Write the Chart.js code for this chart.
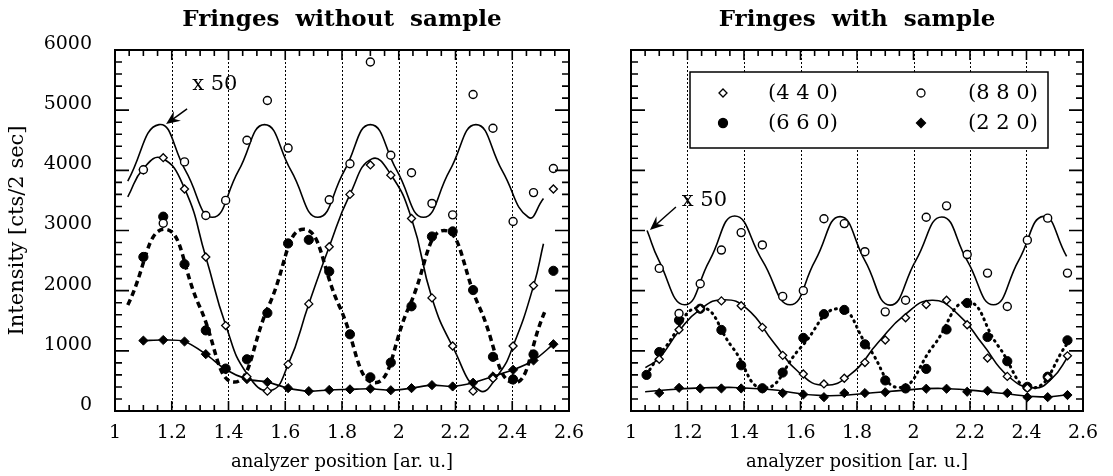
<!DOCTYPE html>
<html lang="en">
<head>
<meta charset="UTF-8">
<title>Fringes without / with sample</title>
<script src="https://cdn.jsdelivr.net/npm/chart.js@4"></script>
<style>
  body { margin: 0; background: #fff; }
  #wrap { position: relative; width: 1113px; height: 476px; }
  canvas { position: absolute; top: 0; }
</style>
</head>
<body>
<div id="wrap">
  <canvas id="left" width="600" height="476" style="left:0;width:600px;height:476px"></canvas>
  <canvas id="right" width="513" height="476" style="left:600px;width:513px;height:476px"></canvas>
</div>
<script>
const FONT = "'DejaVu Serif', serif";

// tick labels
const xTickVals = [1, 1.2, 1.4, 1.6, 1.8, 2, 2.2, 2.4, 2.6];
const yTickVals = [0, 1000, 2000, 3000, 4000, 5000, 6000];
const gridLines = [1.2, 1.4, 1.6, 1.8, 2, 2.2, 2.4];

// analyzer positions of the measured points
const positions = [1.10, 1.17, 1.245, 1.32, 1.39, 1.465, 1.537, 1.61, 1.683, 1.755, 1.828,
                   1.90, 1.972, 2.045, 2.117, 2.19, 2.262, 2.332, 2.403, 2.475, 2.545];

// ---- fringes without sample ----
const noS440 = [4010, 4210, 3690, 2560, 1420, 570, 330, 775, 1780, 2730, 3600, 4090, 3920, 3200, 1880, 1080, 330, 540, 1080, 2085, 3690];
const noS660 = [2560, 3230, 2440, 1340, 705, 860, 1630, 2785, 2845, 2320, 1275, 560, 805, 1740, 2900, 2985, 2010, 900, 525, 940, 2330];
const noS880 = [4010, 3120, 4140, 3250, 3500, 4500, 5160, 4370, null, 3510, 4110, 5800, 4250, 3960, 3450, 3260, 5260, 4700, 3150, 3630, 4030];
const noS220 = [1170, 1180, 1155, 945, 690, 530, 480, 380, 330, 350, 360, 370, 345, 380, 430, 408, 470, 575, 685, 840, 1110];

// fitted curves
const fitNoS880X = [1.045, 1.155, 1.249, 1.343, 1.435, 1.527, 1.621, 1.715, 1.808, 1.90, 1.994, 2.087, 2.179, 2.272, 2.365, 2.457, 2.51];
const fitNoS880Y = [3820, 4760, 3990, 3220, 3990, 4760, 3990, 3220, 3990, 4760, 3990, 3220, 3990, 4760, 3990, 3220, 3530];
const fitNoS440X = [1.045, 1.10, 1.165, 1.245, 1.32, 1.39, 1.465, 1.548, 1.61, 1.683, 1.755, 1.828, 1.905, 1.972, 2.045, 2.117, 2.19, 2.285, 2.35, 2.403, 2.475, 2.51];
const fitNoS440Y = [3560, 4030, 4200, 3700, 2560, 1430, 620, 340, 770, 1780, 2730, 3600, 4190, 3930, 3200, 1880, 1070, 340, 600, 1080, 2080, 2780];
const fitNoS660X = [1.045, 1.175, 1.297, 1.42, 1.542, 1.665, 1.79, 1.915, 2.037, 2.16, 2.283, 2.405, 2.514];
const fitNoS660Y = [1760, 3020, 1750, 480, 1750, 3020, 1750, 470, 1740, 3000, 1740, 470, 1640];

// ---- fringes with sample ----
const positions660w = [1.055].concat(positions);
const wS660 = [600, 980, 1510, 1700, 1347, 760, 378, 639, 1215, 1610, 1680, 1108, 508, 375, 700, 1355, 1795, 1230, 828, 402, 570, 1175];
const wS440 = [860, 1350, 1700, 1830, 1750, 1390, 925, 615, 450, 545, 805, 1180, 1550, 1770, 1840, 1433, 880, 575, 380, 560, 917];
const wS880 = [2370, 1620, 2115, 2675, 2965, 2760, 1905, 2000, 3195, 3115, 2648, 1648, 1840, 3220, 3410, 2600, 2292, 1736, 2840, 3205, 2292];
const wS220 = [300, 385, 375, 375, 375, 375, 298, 275, 230, 298, 298, 312, 383, 370, 370, 320, 336, 298, 230, 230, 265];

const fitWS880X = [1.057, 1.099, 1.19, 1.278, 1.367, 1.465, 1.563, 1.652, 1.740, 1.828, 1.917, 2.008, 2.100, 2.19, 2.283, 2.372, 2.460, 2.542];
const fitWS880Y = [3000, 2500, 1765, 2500, 3240, 2500, 1765, 2500, 3230, 2500, 1760, 2500, 3225, 2500, 1765, 2500, 3235, 2570];
const fitWS440X = [1.051, 1.10, 1.17, 1.245, 1.327, 1.41, 1.505, 1.595, 1.683, 1.78, 1.874, 1.97, 2.065, 2.155, 2.245, 2.335, 2.425, 2.49, 2.552];
const fitWS440Y = [720, 880, 1330, 1690, 1850, 1700, 1140, 640, 430, 620, 1135, 1600, 1840, 1620, 1110, 580, 385, 540, 940];
const fitWS660X = [1.054, 1.12, 1.245, 1.36, 1.47, 1.60, 1.735, 1.84, 1.95, 2.07, 2.19, 2.30, 2.42, 2.552];
const fitWS660Y = [600, 1050, 1720, 1050, 380, 1050, 1700, 1060, 390, 1080, 1810, 1080, 380, 1170];
const fitWS220X = [1.05, 1.25, 1.47, 1.68, 1.90, 2.10, 2.30, 2.45, 2.55];
const fitWS220Y = [320, 385, 365, 255, 320, 375, 300, 235, 270];

function pts(xs, ys) {
  return xs.map((x, i) => ({ x: x, y: ys[i] })).filter(p => p.y != null);
}

function markers(xs, ys, style, radius, filled, bw) {
  return {
    data: pts(xs, ys), showLine: false,
    pointStyle: style, pointRadius: radius, pointHoverRadius: radius,
    pointBackgroundColor: filled ? '#000' : '#fff',
    pointBorderColor: '#000', pointBorderWidth: bw
  };
}

function curve(xs, ys, width, dash, cap) {
  return {
    data: pts(xs, ys), showLine: true, pointRadius: 0, pointHoverRadius: 0,
    borderColor: '#000', borderWidth: width, borderDash: dash || [],
    borderCapStyle: cap || 'butt', tension: 0.5, fill: false
  };
}

function arrow(ctx, x0, y0, x1, y1) {
  const ang = Math.atan2(y1 - y0, x1 - x0);
  ctx.beginPath();
  ctx.moveTo(x0, y0);
  ctx.lineTo(x1 - Math.cos(ang) * 8, y1 - Math.sin(ang) * 8);
  ctx.stroke();
  ctx.save();
  ctx.translate(x1, y1);
  ctx.rotate(ang);
  ctx.beginPath();
  ctx.moveTo(0, 0);
  ctx.lineTo(-14, -6);
  ctx.lineTo(-9, 0);
  ctx.lineTo(-14, 6);
  ctx.closePath();
  ctx.fill();
  ctx.restore();
}

// frame, inward ticks, dotted grid, title, notes and legend
function decor(opt) {
  return {
    id: 'decor',
    beforeDatasetsDraw(chart) {
      const { ctx, chartArea: a, scales: { x } } = chart;
      ctx.save();
      ctx.strokeStyle = '#000';
      ctx.lineWidth = 1;
      ctx.setLineDash([2, 2]);
      gridLines.forEach(v => {
        const px = Math.round(x.getPixelForValue(v)) + 0.5;
        ctx.beginPath();
        ctx.moveTo(px, a.top);
        ctx.lineTo(px, a.bottom);
        ctx.stroke();
      });
      ctx.restore();
    },
    afterDatasetsDraw(chart) {
      const { ctx, chartArea: a, scales: { x, y } } = chart;
      ctx.save();
      ctx.strokeStyle = '#000';
      ctx.fillStyle = '#000';
      ctx.setLineDash([]);
      ctx.lineWidth = 2;
      ctx.strokeRect(a.left, a.top, a.right - a.left, a.bottom - a.top);

      ctx.lineWidth = 1.6;
      ctx.beginPath();
      for (let i = 0; i <= 32; i++) {
        const px = x.getPixelForValue(1 + i * 0.05);
        const len = i % 4 === 0 ? 10 : 6;
        ctx.moveTo(px, a.bottom); ctx.lineTo(px, a.bottom - len);
        ctx.moveTo(px, a.top); ctx.lineTo(px, a.top + len);
      }
      for (let i = 0; i <= 30; i++) {
        const py = y.getPixelForValue(i * 200);
        const len = i % 5 === 0 ? 14 : 7;
        ctx.moveTo(a.left, py); ctx.lineTo(a.left + len, py);
        ctx.moveTo(a.right, py); ctx.lineTo(a.right - len, py);
      }
      ctx.stroke();

      // title
      ctx.font = 'bold 23px ' + FONT;
      ctx.textAlign = 'center';
      ctx.textBaseline = 'middle';
      ctx.fillText(opt.title, (a.left + a.right) / 2, 20);

      // "x 50" note with arrow
      const n = opt.note;
      ctx.font = '21px ' + FONT;
      ctx.textAlign = 'left';
      ctx.fillText('x 50', x.getPixelForValue(n.text[0]), y.getPixelForValue(n.text[1]));
      ctx.lineWidth = 1.5;
      arrow(ctx, x.getPixelForValue(n.tail[0]), y.getPixelForValue(n.tail[1]),
                 x.getPixelForValue(n.tip[0]), y.getPixelForValue(n.tip[1]));

      if (opt.legend) {
        const bx = a.left + 59, by = a.top + 22;
        ctx.fillStyle = '#fff';
        ctx.fillRect(bx, by, 358, 76);
        ctx.fillStyle = '#000';
        ctx.lineWidth = 1.5;
        ctx.strokeRect(bx, by, 358, 76);
        const items = [
          { label: '(4 4 0)', style: 'rectRot', r: 4, fill: false, col: 0, row: 0 },
          { label: '(6 6 0)', style: 'circle', r: 4.5, fill: true, col: 0, row: 1 },
          { label: '(8 8 0)', style: 'circle', r: 4, fill: false, col: 1, row: 0 },
          { label: '(2 2 0)', style: 'rectRot', r: 4.5, fill: true, col: 1, row: 1 }
        ];
        ctx.font = '21px ' + FONT;
        items.forEach(it => {
          const mx = bx + (it.col ? 231 : 33);
          const tx = bx + (it.col ? 278 : 78);
          const my = by + (it.row ? 51 : 21);
          ctx.save();
          ctx.fillStyle = it.fill ? '#000' : '#fff';
          ctx.strokeStyle = '#000';
          ctx.lineWidth = 1.3;
          Chart.helpers.drawPoint(ctx, { pointStyle: it.style, radius: it.r, borderWidth: 1.3 }, mx, my);
          ctx.restore();
          ctx.fillStyle = '#000';
          ctx.textAlign = 'left';
          ctx.fillText(it.label, tx, my + 1);
        });
      }
      ctx.restore();
    }
  };
}

function makeChart(id, datasets, showY, rightPad, opt) {
  return new Chart(document.getElementById(id), {
    type: 'scatter',
    data: { datasets: datasets },
    options: {
      responsive: false,
      animation: false,
      layout: { padding: { top: 50, right: rightPad, bottom: 0, left: 0 } },
      plugins: { legend: { display: false }, tooltip: { enabled: false } },
      scales: {
        x: {
          type: 'linear', min: 1, max: 2.6,
          grid: { display: false }, border: { display: false },
          afterBuildTicks: s => { s.ticks = xTickVals.map(v => ({ value: v })); },
          afterFit: s => { s.height = 65; },
          ticks: {
            autoSkip: false, maxRotation: 0, minRotation: 0, padding: 3, color: '#000',
            font: { family: FONT, size: 19 },
            callback: v => String(Number(v.toFixed(1)))
          },
          title: {
            display: true, text: 'analyzer position [ar. u.]', color: '#000',
            font: { family: FONT, size: 18 }, padding: { top: 0, bottom: 3 }
          }
        },
        y: {
          min: 0, max: 6000,
          grid: { display: false }, border: { display: false },
          afterBuildTicks: s => { s.ticks = yTickVals.map(v => ({ value: v })); },
          afterFit: s => { s.width = showY ? 115 : 31; },
          ticks: {
            display: showY, padding: 15, labelOffset: -6, color: '#000',
            font: { family: FONT, size: 19 },
            callback: v => String(v)
          },
          title: {
            display: showY, text: 'Intensity [cts/2 sec]', color: '#000',
            font: { family: FONT, size: 21 }, padding: { top: 5, bottom: 0 }
          }
        }
      }
    },
    plugins: [decor(opt)]
  });
}

makeChart('left', [
  markers(positions, noS880, 'circle', 4, false, 1.4),
  markers(positions, noS440, 'rectRot', 4, false, 1.3),
  markers(positions, noS660, 'circle', 4.6, true, 1),
  Object.assign(markers(positions, noS220, 'rectRot', 4.6, true, 1),
                { showLine: true, borderColor: '#000', borderWidth: 1.6, tension: 0.3 }),
  curve(fitNoS880X, fitNoS880Y, 1.6),
  curve(fitNoS440X, fitNoS440Y, 1.6),
  curve(fitNoS660X, fitNoS660Y, 3.5, [6, 4])
], true, 31, {
  title: 'Fringes  without  sample',
  note: { text: [1.272, 5420], tail: [1.254, 5020], tip: [1.18, 4770] },
  legend: false
});

makeChart('right', [
  markers(positions, wS880, 'circle', 4, false, 1.4),
  markers(positions, wS440, 'rectRot', 4, false, 1.3),
  markers(positions660w, wS660, 'circle', 4.6, true, 1),
  markers(positions, wS220, 'rectRot', 4.6, true, 1),
  curve(fitWS880X, fitWS880Y, 1.6),
  curve(fitWS440X, fitWS440Y, 1.6),
  curve(fitWS220X, fitWS220Y, 1.6),
  curve(fitWS660X, fitWS660Y, 3, [1, 5], 'round')
], false, 30, {
  title: 'Fringes  with  sample',
  note: { text: [1.18, 3490], tail: [1.159, 3390], tip: [1.067, 3008] },
  legend: true
});
</script>
</body>
</html>
